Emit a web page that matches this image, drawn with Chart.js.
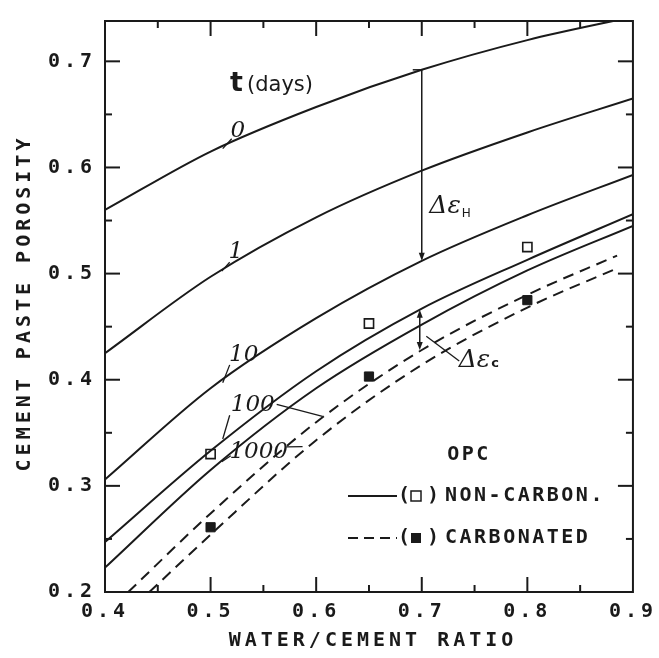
<!DOCTYPE html>
<html><head><meta charset="utf-8">
<script src="https://cdn.jsdelivr.net/npm/chart.js@4.4.0/dist/chart.umd.min.js"></script>
<style>html,body{margin:0;padding:0;background:#fff;}#wrap{width:659px;height:658px;}</style>
</head><body><div id="wrap"><canvas id="c" width="659" height="658"></canvas></div>
<script>
// ---- data ----
const xTicks = [0.4, 0.5, 0.6, 0.7, 0.8, 0.9];
const xTickLabels = ['0.4', '0.5', '0.6', '0.7', '0.8', '0.9'];
const yTicks = [0.2, 0.3, 0.4, 0.5, 0.6, 0.7];
const yTickLabels = ['0.2', '0.3', '0.4', '0.5', '0.6', '0.7'];
const xMinorTicks = [0.45, 0.55, 0.65, 0.75, 0.85];
const yMinorTicks = [0.25, 0.35, 0.45, 0.55, 0.65];

const wcRatio = [0.4, 0.5, 0.6, 0.7, 0.8, 0.9];
const porosityT0 = [0.560, 0.615, 0.657, 0.692, 0.720, 0.742];
const porosityT1 = [0.425, 0.497, 0.553, 0.597, 0.633, 0.665];
const porosityT10 = [0.306, 0.392, 0.458, 0.512, 0.555, 0.593];
const porosityT100 = [0.247, 0.333, 0.408, 0.467, 0.513, 0.556];
const porosityT1000 = [0.223, 0.315, 0.392, 0.452, 0.503, 0.545];

const carbWc100 = [0.422, 0.5, 0.6, 0.7, 0.8, 0.885];
const carbPorosity100 = [0.200, 0.274, 0.360, 0.428, 0.480, 0.517];
const carbWc1000 = [0.442, 0.5, 0.6, 0.7, 0.8, 0.885];
const carbPorosity1000 = [0.200, 0.254, 0.343, 0.414, 0.468, 0.505];

const measWc = [0.5, 0.65, 0.8];
const nonCarbonMeasured = [0.330, 0.453, 0.525];
const carbonatedMeasured = [0.261, 0.403, 0.475];

const curveLabels = ['0', '1', '10', '100', '1000'];

const INK = '#1a1a1a';
const MONO = '"DejaVu Sans Mono", "Liberation Mono", monospace';

const pts = (xs, ys) => xs.map((x, i) => ({x, y: ys[i]}));
const solid = (label, ys) => ({label, data: pts(wcRatio, ys), borderColor: INK, borderWidth: 2,
  pointRadius: 0, cubicInterpolationMode: 'monotone', fill: false});
const dashed = (label, xs, ys) => ({label, data: pts(xs, ys), borderColor: INK, borderWidth: 2,
  borderDash: [11, 7], pointRadius: 0, cubicInterpolationMode: 'monotone', fill: false});

const deco = {
  id: 'deco',
  beforeDraw(chart) {
    const c = chart.ctx;
    c.save(); c.fillStyle = '#fff'; c.fillRect(0, 0, chart.width, chart.height); c.restore();
    c.letterSpacing = '4px';
  },
  afterDraw(chart) {
    const ctx = chart.ctx, xs = chart.scales.x, ys = chart.scales.y, a = chart.chartArea;
    const X = v => xs.getPixelForValue(v), Y = v => ys.getPixelForValue(v);
    ctx.save();
    ctx.letterSpacing = '0px';
    ctx.strokeStyle = INK; ctx.fillStyle = INK; ctx.lineWidth = 2;
    // frame
    ctx.strokeRect(a.left, a.top, a.right - a.left, a.bottom - a.top);
    // inward ticks
    const seg = (x1, y1, x2, y2) => { ctx.beginPath(); ctx.moveTo(x1, y1); ctx.lineTo(x2, y2); ctx.stroke(); };
    xTicks.slice(1, -1).forEach(v => { const p = X(v); seg(p, a.bottom, p, a.bottom - 15); seg(p, a.top, p, a.top + 15); });
    xMinorTicks.forEach(v => { const p = X(v); seg(p, a.bottom, p, a.bottom - 7); seg(p, a.top, p, a.top + 7); });
    yTicks.slice(1).forEach(v => { const p = Y(v); seg(a.left, p, a.left + 15, p); seg(a.right, p, a.right - 15, p); });
    yMinorTicks.forEach(v => { const p = Y(v); seg(a.left, p, a.left + 7, p); seg(a.right, p, a.right - 7, p); });

    // axis titles
    ctx.font = 'bold 20px ' + MONO; ctx.letterSpacing = '4px'; ctx.textBaseline = 'middle'; ctx.textAlign = 'center';
    ctx.fillText('WATER/CEMENT RATIO', 373, 641);
    ctx.save(); ctx.translate(25, 305); ctx.rotate(-Math.PI / 2);
    ctx.fillText('CEMENT PASTE POROSITY', 2, 0); ctx.restore();
    ctx.letterSpacing = '0px';

    // t(days)
    ctx.textAlign = 'left'; ctx.textBaseline = 'alphabetic';
    ctx.font = 'bold 27px "DejaVu Sans"'; ctx.fillText('t', X(0.5185), Y(0.672));
    ctx.font = '21px "DejaVu Sans"'; ctx.fillText('(days)', X(0.5345), Y(0.672));

    // curve labels
    ctx.lineWidth = 1.3;
    ctx.font = 'italic 23px "DejaVu Serif"'; ctx.textBaseline = 'middle'; ctx.textAlign = 'center';
    const lab = [[0.5257, 0.6344], [0.5238, 0.520], [0.5314, 0.4233], [0.5399, 0.3758], [0.5456, 0.3321]];
    curveLabels.forEach((t, i) => ctx.fillText(t, X(lab[i][0]), Y(lab[i][1])));
    const leaders = [
      [0.5200, 0.6270, 0.5115, 0.6177], [0.5181, 0.5107, 0.5106, 0.5023],
      [0.5181, 0.4140, 0.5115, 0.3972], [0.5181, 0.3665, 0.5115, 0.3442],
      [0.5626, 0.3767, 0.6060, 0.3655], [0.5720, 0.3368, 0.5871, 0.3370],
      [0.5191, 0.3284, 0.5106, 0.3228]
    ];
    leaders.forEach(l => seg(X(l[0]), Y(l[1]), X(l[2]), Y(l[3])));

    // delta eps H arrow
    const ax = X(0.7);
    ctx.lineWidth = 1.5;
    seg(ax, Y(porosityT0[3]), ax, Y(porosityT10[3]) - 2);
    seg(ax - 9, Y(porosityT0[3]), ax, Y(porosityT0[3]));
    const head = (x, y, dir) => { ctx.beginPath(); ctx.moveTo(x, y); ctx.lineTo(x - 3, y - dir * 8); ctx.lineTo(x + 3, y - dir * 8); ctx.closePath(); ctx.fill(); };
    head(ax, Y(porosityT10[3]), 1);
    ctx.textAlign = 'left'; ctx.textBaseline = 'alphabetic';
    ctx.font = 'italic 25px "DejaVu Serif"'; ctx.fillText('\u0394\u03b5', X(0.7072), Y(0.557));
    let w = ctx.measureText('\u0394\u03b5').width;
    ctx.font = '12px "DejaVu Sans"'; ctx.fillText('H', X(0.7072) + w + 1, Y(0.553));

    // delta eps c arrows
    const up = Y(0.466), dn = Y(0.428);
    seg(ax - 2, up + 4, ax - 2, dn - 4);
    head(ax - 2, up, -1); head(ax - 2, dn, 1);
    ctx.lineWidth = 1.3;
    seg(X(0.7043), Y(0.4409), X(0.7355), Y(0.4177));
    ctx.font = 'italic 25px "DejaVu Serif"'; ctx.fillText('\u0394\u03b5', X(0.7350), Y(0.4116));
    w = ctx.measureText('\u0394\u03b5').width;
    ctx.font = 'bold 13px "DejaVu Sans"'; ctx.fillText('c', X(0.7350) + w + 1, Y(0.4116));

    // legend
    ctx.font = 'bold 20px ' + MONO; ctx.letterSpacing = '2.5px';
    ctx.textBaseline = 'middle'; ctx.textAlign = 'center';
    ctx.fillText('OPC', 469, 455);
    ctx.textAlign = 'left';
    ctx.lineWidth = 2;
    seg(348, 496, 397, 496);
    ctx.fillText('(', 398, 496); ctx.fillText(')', 427, 496);
    ctx.lineWidth = 1.5; ctx.strokeRect(411, 491, 10, 10);
    ctx.fillText('NON-CARBON.', 445, 496);
    ctx.lineWidth = 2; ctx.setLineDash([10, 6]);
    seg(348, 538, 397, 538); ctx.setLineDash([]);
    ctx.fillText('(', 398, 538); ctx.fillText(')', 427, 538);
    ctx.fillRect(411, 533, 10, 10);
    ctx.fillText('CARBONATED', 445, 538);
    ctx.restore();
  }
};

new Chart(document.getElementById('c'), {
  type: 'line',
  data: {
    datasets: [
      solid('t=0', porosityT0), solid('t=1', porosityT1), solid('t=10', porosityT10),
      solid('t=100', porosityT100), solid('t=1000', porosityT1000),
      dashed('carbonated 100', carbWc100, carbPorosity100),
      dashed('carbonated 1000', carbWc1000, carbPorosity1000),
      {label: 'NON-CARBON.', data: pts(measWc, nonCarbonMeasured), showLine: false,
       pointStyle: 'rect', pointRadius: 6.5, pointBackgroundColor: '#fff', pointBorderColor: INK, pointBorderWidth: 1.6},
      {label: 'CARBONATED', data: pts(measWc, carbonatedMeasured), showLine: false,
       pointStyle: 'rect', pointRadius: 6.5, pointBackgroundColor: INK, pointBorderColor: INK, pointBorderWidth: 1}
    ]
  },
  options: {
    responsive: false, animation: false, devicePixelRatio: 1,
    layout: {padding: {top: 14, right: 25, left: 0, bottom: 0}},
    plugins: {legend: {display: false}, tooltip: {enabled: false}},
    scales: {
      x: {
        type: 'linear', min: 0.4, max: 0.9,
        afterBuildTicks: s => { s.ticks = xTicks.map(v => ({value: v})); },
        afterFit: s => { s.height = 66; },
        ticks: {callback: (v, i) => xTickLabels[i], font: {family: MONO, size: 20, weight: 'bold'}, color: INK,
                padding: 8, maxRotation: 0, autoSkip: false},
        grid: {display: false, drawTicks: false}, border: {display: false}
      },
      y: {
        type: 'linear', min: 0.2, max: 0.738,
        afterBuildTicks: s => { s.ticks = yTicks.map(v => ({value: v})); },
        afterFit: s => { s.width = 105; },
        ticks: {callback: (v, i) => yTickLabels[i], font: {family: MONO, size: 20, weight: 'bold'}, color: INK,
                padding: 9, autoSkip: false},
        grid: {display: false, drawTicks: false}, border: {display: false}
      }
    }
  },
  plugins: [deco]
});
</script></body></html>
